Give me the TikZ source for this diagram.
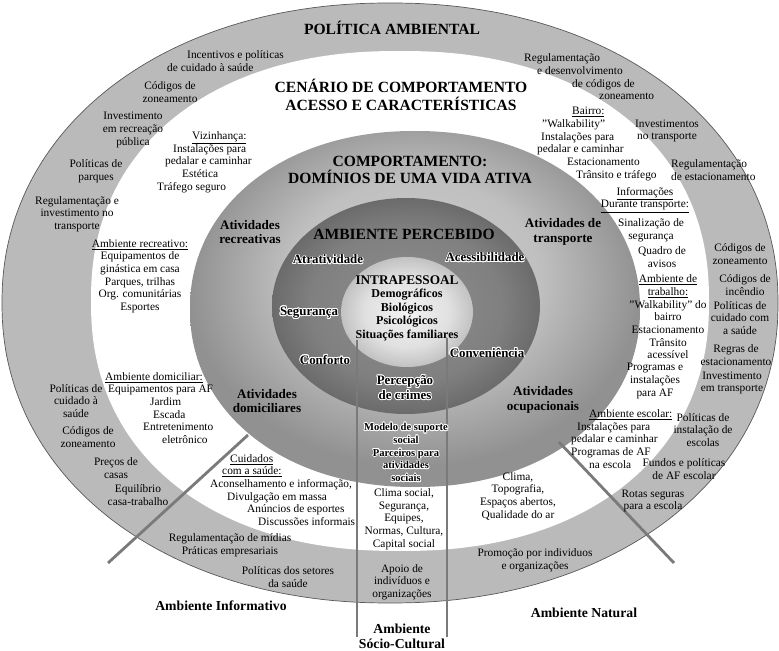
\documentclass[tikz,border=0pt]{standalone}
\usepackage{fontspec}
\setmainfont{Liberation Serif}
\usepackage{contour}
\contourlength{0.7pt}

% one picture pixel and a few helpers for the labels
\newlength{\pxu}
\setlength{\pxu}{0.03cm}
\newcommand{\indpx}[1]{\hspace*{#1\pxu}}
\newcommand{\halo}[1]{\contour{white}{#1}}

% shadings of the three inner discs
\pgfdeclareradialshading{discshade}{\pgfpoint{0bp}{6bp}}{color(0bp)=(black!20); color(14bp)=(black!25); color(25bp)=(black!43); color(50bp)=(black!43)}
\pgfdeclareradialshading{darkshade}{\pgfpoint{0bp}{0bp}}{color(0bp)=(black!44); color(18bp)=(black!50); color(25bp)=(black!58); color(50bp)=(black!58)}
\pgfdeclareradialshading{coreshade}{\pgfpoint{0bp}{0bp}}{color(0bp)=(black!5); color(16bp)=(black!12); color(25bp)=(black!24); color(50bp)=(black!24)}

\begin{document}
\begin{tikzpicture}[x=0.03cm, y=-0.03cm,
  lbl/.style={font=\fontsize{9.7}{10.8}\selectfont, align=center, inner sep=0pt},
  lbll/.style={lbl, align=left, anchor=west},
  ttl/.style={font=\fontsize{13.3}{15}\selectfont\bfseries, align=center, inner sep=0pt},
  dom/.style={font=\fontsize{11.2}{12.5}\selectfont\bfseries, align=center, inner sep=0pt},
  hal/.style={font=\fontsize{11}{12.5}\selectfont\bfseries, align=center, inner sep=0pt},
  amb/.style={font=\fontsize{11.7}{13}\selectfont\bfseries, align=center, inner sep=0pt},
  divider/.style={line width=2.4pt, draw=black!52}]
  \useasboundingbox (0,0) rectangle (779,651);
  \fill[white] (0,0) rectangle (779,651);

  % rings, from the policy ring inwards (slightly squared ovals)
  \fill[black!27, draw=black!65, line width=0.6pt] plot[smooth cycle, domain=0:357, samples=120]
    ({390+388*sign(cos(\x))*pow(abs(cos(\x))+0.00001,0.95)}, {303+300*sign(sin(\x))*pow(abs(sin(\x))+0.00001,0.95)});
  \fill[white] plot[smooth cycle, domain=0:357, samples=120]
    ({400+309*sign(cos(\x))*pow(abs(cos(\x))+0.00001,0.9)}, {301+250*sign(sin(\x))*pow(abs(sin(\x))+0.00001,0.9)});
  \shade[shading=discshade] plot[smooth cycle, domain=0:357, samples=120]
    ({415+225*sign(cos(\x))*pow(abs(cos(\x))+0.00001,0.95)}, {309+178*sign(sin(\x))*pow(abs(sin(\x))+0.00001,0.95)});
  \shade[shading=darkshade] (406,306) ellipse [x radius=134, y radius=108];
  \shade[shading=coreshade] (407,312) ellipse [x radius=66, y radius=55];

  % dividers between the environments
  \coordinate (sc1) at (357,340); \coordinate (sc2) at (357,637);
  \coordinate (sc3) at (447,338); \coordinate (sc4) at (447,637);
  \coordinate (inf1) at (248,435); \coordinate (inf2) at (108,563);
  \coordinate (nat1) at (559,442); \coordinate (nat2) at (674,563);
  \draw[divider] (sc1) -- (sc2);
  \draw[divider] (sc3) -- (sc4);
  \draw[divider] (inf1) -- (inf2);
  \draw[divider] (nat1) -- (nat2);

  % titles
  \node[ttl] (pol) at (392,28) {POLÍTICA AMBIENTAL};
  \node[ttl] (cen) at (401,95) {CENÁRIO DE COMPORTAMENTO\\ACESSO E CARACTERÍSTICAS};
  \node[ttl] (comp) at (410,170) {COMPORTAMENTO:\\DOMÍNIOS DE UMA VIDA ATIVA};
  \node[ttl] (perc) at (404,234) {AMBIENTE PERCEBIDO};
  \node[ttl, font=\fontsize{11.3}{12}\selectfont\bfseries] (intra) at (407,280) {INTRAPESSOAL};
  \node[dom, font=\fontsize{10.3}{11.9}\selectfont\bfseries] (intlist) at (407,315)
    {Demográficos\\Biológicos\\Psicológicos\\Situações familiares};

  % perceived environment
  \node[hal] (atr) at (328,260) {\halo{Atratividade}};
  \node[hal] (ace) at (485,258) {\halo{Acessibilidade}};
  \node[hal] (seg) at (309,313) {\halo{Segurança}};
  \node[hal] (conf) at (325,360) {\halo{Conforto}};
  \node[hal] (conv) at (487,353) {\halo{Conveniência}};
  \node[hal] (crim) at (405,388) {\halo{Percepção}\\\halo{de crimes}};

  % domains of active living
  \node[dom] (recr) at (250,232) {Atividades\\recreativas};
  \node[dom] (transp) at (563,232) {Atividades de\\transporte};
  \node[dom] (domic) at (267,401) {Atividades\\domiciliares};
  \node[dom] (ocup) at (543,400) {Atividades\\ocupacionais};
  \node[hal, font=\fontsize{9}{10.9}\selectfont\bfseries] (supp) at (406,453)
    {\halo{Modelo de suporte}\\\halo{social}\\\halo{Parceiros para}\\\halo{atividades}\\\halo{sociais}};

  % behaviour settings
  \node[lbll] (viz) at (157,162) {\indpx{35}\underline{Vizinhança:}\\\indpx{16}Instalações para\\\indpx{8}pedalar e caminhar\\\indpx{25}Estética\\Tráfego seguro};
  \node[lbll] (bai) at (537,144) {\indpx{35}\underline{Bairro:}\\\indpx{5}"Walkability"\\\indpx{4}Instalações para\\pedalar e caminhar\\\indpx{30}Estacionamento\\\indpx{39}Trânsito e tráfego};
  \node[lbl] (info) at (645,200) {\underline{Informações}\\\underline{Durante transporte:}};
  \node[lbl] (sinal) at (651,230) {Sinalização de\\segurança};
  \node[lbl] (quad) at (662,257) {Quadro de\\avisos};
  \node[lbl] (trab) at (668,317) {\underline{Ambiente de}\\\underline{trabalho:}\\"Walkability" do\\bairro\\Estacionamento\\Trânsito\\acessível};
  \node[lbl] (prog) at (655,381) {Programas e\\instalações\\para AF};
  \node[lbll] (esc) at (571,439) {\indpx{18}\underline{Ambiente escolar:}\\\indpx{6}Instalações para\\pedalar e caminhar\\Programas de AF\\\indpx{18}na escola};
  \node[lbl] (clima) at (518,496) {Clima,\\Topografia,\\Espaços abertos,\\Qualidade do ar};
  \node[lbl] (rec) at (140,276) {\underline{Ambiente recreativo:}\\Equipamentos de\\ginástica em casa\\Parques, trilhas\\Org. comunitárias\\Esportes};
  \node[lbll] (domc) at (105,408) {\underline{Ambiente domiciliar:}\\\indpx{3}Equipamentos para AF\\\indpx{45}Jardim\\\indpx{48}Escada\\\indpx{38}Entretenimento\\\indpx{57}eletrônico};
  \node[lbll] (cuid) at (210,490) {\indpx{20}\underline{Cuidados}\\\indpx{12}\underline{com a saúde:}\\Aconselhamento e informação,\\\indpx{17}Divulgação em massa\\\indpx{37}Anúncios de esportes\\\indpx{48}Discussões informais};
  \node[lbl] (scl) at (404,519) {Clima social,\\Segurança,\\Equipes,\\Normas, Cultura,\\Capital social};

  % policy ring
  \node[lbll] (inc) at (167,61) {\indpx{20}Incentivos e políticas\\de cuidado à saúde};
  \node[lbl] (cod1) at (170,92) {Códigos de\\zoneamento};
  \node[lbl] (inv) at (133,130) {Investimento\\em recreação\\pública};
  \node[lbl] (parq) at (96,171) {Políticas de\\parques};
  \node[lbl] (regt) at (77,214) {Regulamentação e\\investimento no\\transporte};
  \node[lbl] (polsau) at (76,401) {Políticas de\\cuidado à\\saúde};
  \node[lbl] (cod2) at (88,437) {Códigos de\\zoneamento};
  \node[lbl] (prec) at (116,468) {Preços de\\casas};
  \node[lbl] (equi) at (138,495) {Equilíbrio\\casa-trabalho};
  \node[lbl] (midia) at (230,545) {Regulamentação de mídias\\Práticas empresariais};
  \node[lbl] (setor) at (288,577) {Políticas dos setores\\da saúde};
  \node[lbl] (apoio) at (402,582) {Apoio de\\indivíduos e\\organizações};
  \node[lbl] (promo) at (535,560) {Promoção por individuos\\e organizações};
  \node[lbll] (regz) at (524,77) {Regulamentação\\\indpx{13}e desenvolvimento\\\indpx{48}de códigos de\\\indpx{75}zoneamento};
  \node[lbl] (invt) at (667,131) {Investimentos\\no transporte};
  \node[lbll] (rege) at (671,170) {Regulamentação\\de estacionamento};
  \node[lbl] (cod3) at (740,254) {Códigos de\\zoneamento};
  \node[lbl] (incd) at (745,285) {Códigos de\\incêndio};
  \node[lbl] (polc) at (740,318) {Políticas de\\cuidado com\\a saúde};
  \node[lbl] (regr) at (736,355) {Regras de\\estacionamento};
  \node[lbl] (invt2) at (732,383) {Investimento\\em transporte};
  \node[lbl] (polesc) at (703,430) {Políticas de\\instalação de\\escolas};
  \node[lbl] (fund) at (684,469) {Fundos e políticas\\de AF escolar};
  \node[lbl] (rotas) at (653,501) {Rotas seguras\\para a escola};

  % environments
  \node[amb] (einf) at (221,606) {Ambiente Informativo};
  \node[amb] (enat) at (584,613) {Ambiente Natural};
  \node[amb] (esoc) at (402,636) {Ambiente\\Sócio-Cultural};
\end{tikzpicture}
\end{document}
